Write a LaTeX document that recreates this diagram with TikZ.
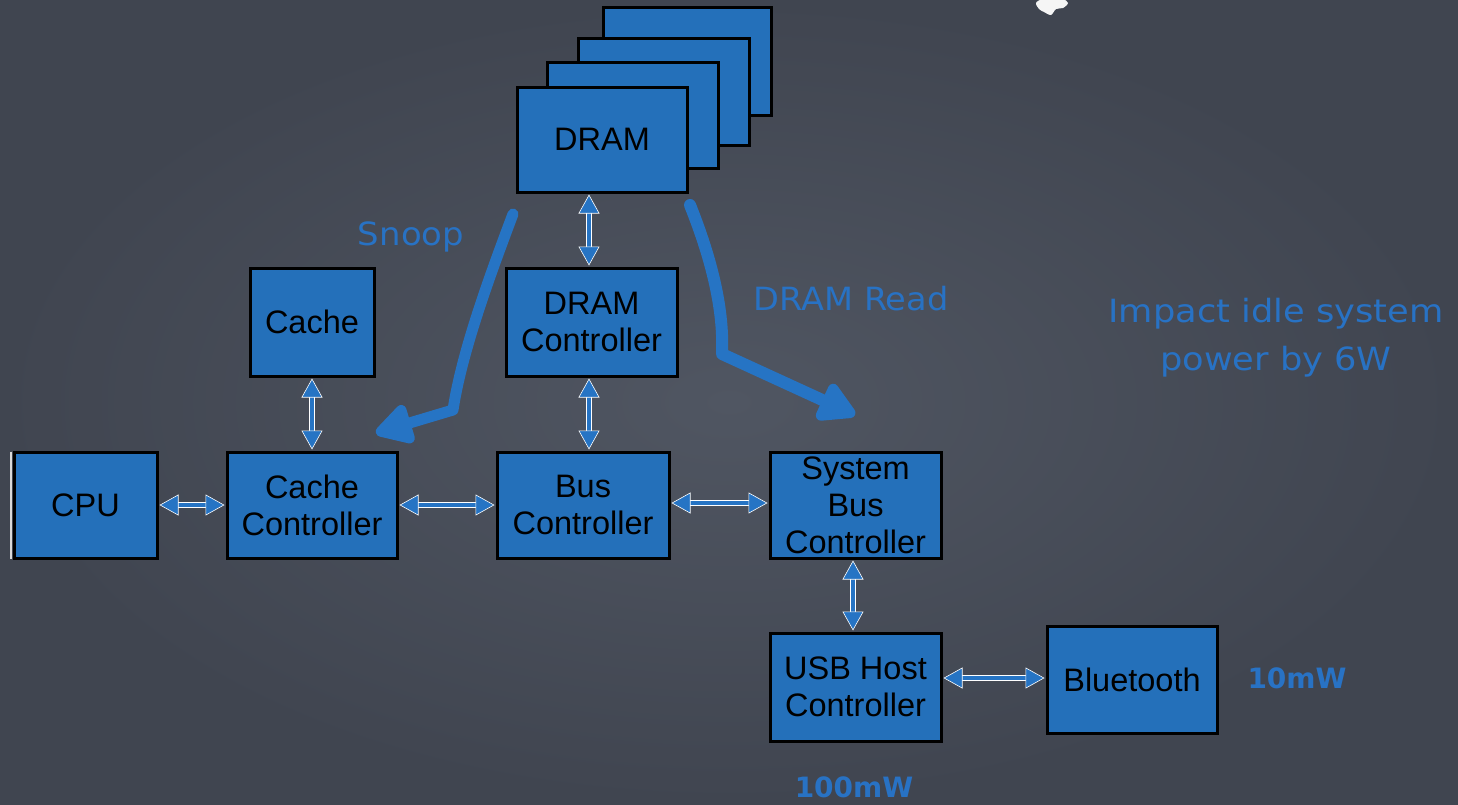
\documentclass[tikz,border=0pt]{standalone}
\usepackage{fontspec}
\setmainfont{Liberation Sans}
\newfontfamily\chalk{DejaVu Sans}
\usetikzlibrary{arrows.meta,calc}
\definecolor{bgin}{RGB}{80,86,98}
\definecolor{bgout}{RGB}{64,69,80}
\definecolor{boxblue}{RGB}{36,112,186}
\definecolor{linkblue}{RGB}{38,116,196}
\definecolor{chalkblue}{RGB}{40,114,196}
\tikzset{
  box/.style={draw=black, line width=3pt, fill=boxblue, inner sep=0pt,
    align=center, font=\fontsize{32.5}{37}\selectfont,
    minimum width=171pt, minimum height=106pt},
  link/.style={draw=linkblue, line width=4pt,
    {Triangle[length=19pt,width=21pt,fill=linkblue,color=white,line width=0.6pt]}-{Triangle[length=19pt,width=21pt,fill=linkblue,color=white,line width=0.6pt]},
    shorten <=1pt, shorten >=1pt,
    preaction={draw=white, line width=6pt, -, shorten <=18pt, shorten >=18pt}},
  bigarrow/.style={draw=linkblue, line width=11pt, line cap=round, line join=round,
    -{Triangle[length=42pt,width=44pt,round]}},
  chalktext/.style={text=chalkblue, inner sep=0pt, anchor=base, font=\chalk\fontsize{32}{36}\selectfont},
}
\begin{document}
\begin{tikzpicture}[x=1pt,y=-1pt]
  % slate background with a soft vignette
  \shade[inner color=bgin, outer color=bgout] (0,0) rectangle (1458,804);
  \useasboundingbox (0,0) rectangle (1458,804);

  % chalk smudge at the top edge
  \fill[white!92!gray] plot[smooth cycle] coordinates {(1036,3) (1043,-1) (1062,-1) (1068,3) (1063,8) (1056,9) (1051,15) (1044,12) (1039,9)};

  % stack of DRAM chips
  \node[box, minimum width=168pt, minimum height=108pt] (dram4) at (687,61) {};
  \node[box, minimum width=171pt, minimum height=107pt] (dram3) at (663.5,91.5) {};
  \node[box, minimum width=171pt, minimum height=106pt] (dram2) at (632.5,115) {};
  \node[box, minimum width=170pt, minimum height=105pt] (dram) at (602,139.5) {DRAM};

  % controllers and devices
  \node[box, minimum width=124pt, minimum height=108pt] (cache) at (312,322) {Cache};
  \node[box, minimum height=108pt] (dramctl) at (591.5,322) {DRAM\\Controller};
  \node[box, minimum width=143pt] (cpu) at (85.5,505) {CPU};
  \draw[gray!30, line width=2pt] ($(cpu.north west)+(-2,1)$) -- ($(cpu.south west)+(-2,-1)$);
  \node[box, minimum width=170pt] (cachectl) at (312,505) {Cache\\Controller};
  \node[box, minimum width=172pt] (busctl) at (583,505) {Bus\\Controller};
  \node[box] (sysbus) at (855.5,505) {System\\Bus\\Controller};
  \node[box, minimum height=108pt] (usb) at (855.5,687) {USB Host\\Controller};
  \node[box, minimum width=170pt, minimum height=107pt] (bt) at (1132,679.5) {Bluetooth};

  % bidirectional links
  \draw[link] (589,0 |- dram.south) -- (589,0 |- dramctl.north);
  \draw[link] (cache.south) -- (cache.south |- cachectl.north);
  \draw[link] (589,0 |- dramctl.south) -- (589,0 |- busctl.north);
  \draw[link] (cpu.east) -- (cachectl.west);
  \draw[link] (cachectl.east) -- (busctl.west);
  \draw[link] (0,503 -| busctl.east) -- (0,503 -| sysbus.west);
  \draw[link] (853,0 |- sysbus.south) -- (853,0 |- usb.north);
  \draw[link] (0,678 -| usb.east) -- (0,678 -| bt.west);

  % hand-drawn data-flow arrows
  \coordinate (snoopfrom) at (513,214);
  \coordinate (snoopbend) at (453,410);
  \coordinate (snoopto) at (376,433);
  \draw[bigarrow] (snoopfrom) .. controls (492,270) and (462,350) .. (snoopbend) -- (snoopto);
  \coordinate (readfrom) at (690,205);
  \coordinate (readbend) at (722,354);
  \coordinate (readto) at (855,415);
  \draw[bigarrow, line width=12pt] (readfrom) .. controls (712,260) and (724,310) .. (readbend) -- (readto);

  % chalk annotations
  \node[chalktext] (snoop) at (411,245) {\scalebox{1.06}[1]{Snoop}};
  \node[chalktext] (dramread) at (851,310) {\scalebox{1.05}[1]{DRAM Read}};
  \node[chalktext] (impact1) at (1276,322) {\scalebox{1.1}[1]{Impact idle system}};
  \node[chalktext] (impact2) at (1276,370) {\scalebox{1.1}[1]{power by 6W}};
  \node[chalktext, font=\chalk\bfseries\fontsize{28}{32}\selectfont] (p10) at (1297,688) {10mW};
  \node[chalktext, font=\chalk\bfseries\fontsize{28}{32}\selectfont] (p100) at (854,797) {100mW};
\end{tikzpicture}
\end{document}
